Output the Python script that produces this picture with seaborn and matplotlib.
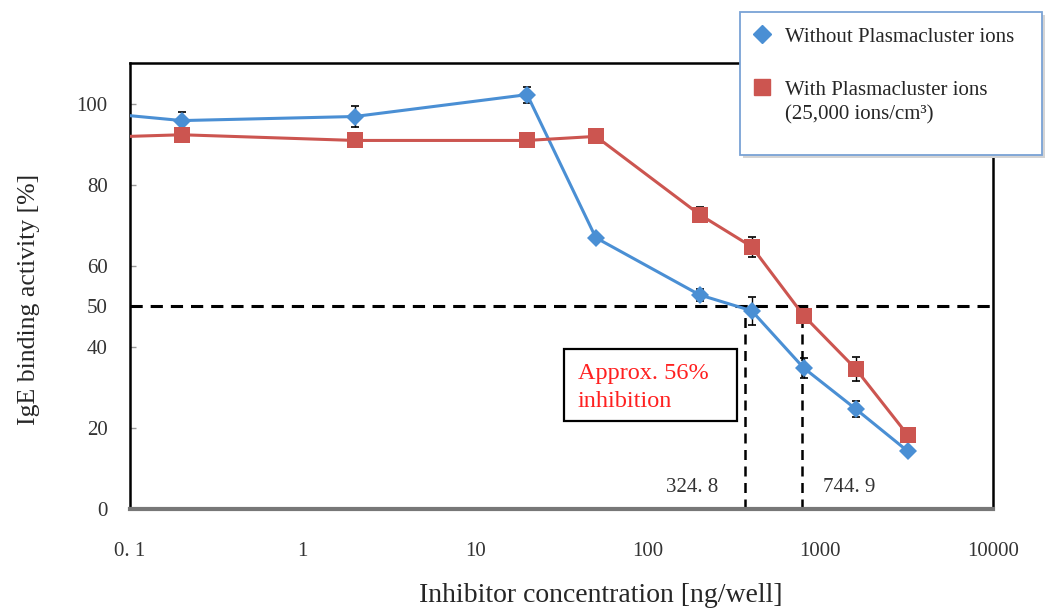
#!/usr/bin/env python3
"""
IgE binding activity vs inhibitor concentration, with / without Plasmacluster ions.
"""

import numpy as np
import pandas as pd
import matplotlib
matplotlib.use("Agg")
import matplotlib.pyplot as plt
import seaborn as sns
from matplotlib.lines import Line2D
from matplotlib.patches import Rectangle
from matplotlib.ticker import FixedLocator, FixedFormatter, NullLocator

# --- data ---
concentration = [0.02, 0.2, 2, 20, 50, 200, 400, 800, 1600, 3200]
without_ions = [99.8, 95.8, 96.8, 102.2, 66.9, 52.8, 48.9, 34.8, 24.7, 14.3]
without_err = [0.0, 2.0, 2.5, 2.0, 0.8, 1.5, 3.5, 2.5, 2.0, 1.0]
with_ions = [91.0, 92.3, 90.9, 90.9, 91.9, 72.6, 64.7, 47.7, 34.6, 18.3]
with_err = [0.0, 1.0, 0.8, 1.5, 1.0, 1.8, 2.5, 1.0, 3.0, 1.0]

series_names = ["Without Plasmacluster ions", "With Plasmacluster ions"]
series_extra = "(25,000 ions/cm³)"
series_colors = ["#4a8fd4", "#cc5550"]
series_markers = ["D", "s"]

x_ticks = [0.1, 1, 10, 100, 1000, 10000]
x_tick_labels = ["0. 1", "1", "10", "100", "1000", "10000"]
y_ticks = [0, 20, 40, 50, 60, 80, 100]

half_level = 50
crossing_x = [365, 780]          # where the curves cross 50 %
crossing_labels = ["324. 8", "744. 9"]
note_text = "Approx. 56%\ninhibition"

df = pd.DataFrame({
    "conc": concentration * 2,
    "activity": without_ions + with_ions,
    "err": without_err + with_err,
    "series": [series_names[0]] * len(concentration) + [series_names[1]] * len(concentration),
})

sns.set_theme(style="white")
plt.rcParams["font.family"] = ["Liberation Serif", "DejaVu Serif"]

fig = plt.figure(figsize=(10.46, 6.11), dpi=100)
ax = fig.add_axes([0.1243, 0.1669, 0.825, 0.730])
ax.set_xscale("log")

palette = dict(zip(series_names, series_colors))
markers = dict(zip(series_names, series_markers))

sns.lineplot(data=df, x="conc", y="activity", hue="series", style="series",
             palette=palette, markers=markers, dashes=False, legend=False,
             linewidth=2.2, markersize=9, markeredgewidth=0, ax=ax, zorder=3)

# bigger squares for the red series
for line, name in zip(ax.lines, series_names):
    if markers[name] == "s":
        line.set_markersize(11)

for name in series_names:
    sub = df[df["series"] == name]
    ax.errorbar(sub["conc"], sub["activity"], yerr=sub["err"], fmt="none",
                ecolor="black", elinewidth=1.0, capsize=3, capthick=1.2, zorder=2.5)

# 50 % reference lines
ax.axhline(half_level, color="black", lw=2.2, ls=(0, (4, 2.6)), zorder=2)
ax.vlines(crossing_x, 0, half_level, color="black", lw=1.8, ls=(0, (4, 2.6)), zorder=2)
ax.text(crossing_x[0] * 0.70, 5.4, crossing_labels[0], ha="right", va="center",
        fontsize=15, color="#333333")
ax.text(crossing_x[1] * 1.32, 5.4, crossing_labels[1], ha="left", va="center",
        fontsize=15, color="#333333")

# annotation box
ax.add_patch(Rectangle((0.503, 0.197), 0.200, 0.162, transform=ax.transAxes,
                       facecolor="white", edgecolor="black", linewidth=1.6, zorder=5))
ax.text(0.519, 0.273, note_text, transform=ax.transAxes, ha="left", va="center",
        fontsize=17.5, color="#ff2020", linespacing=1.42, zorder=6)

ax.set_xlim(0.1, 10000)
ax.set_ylim(0, 110)
ax.xaxis.set_major_locator(FixedLocator(x_ticks))
ax.xaxis.set_major_formatter(FixedFormatter(x_tick_labels))
ax.xaxis.set_minor_locator(NullLocator())
ax.yaxis.set_major_locator(FixedLocator(y_ticks))

ax.tick_params(axis="x", direction="in", length=6, width=1, color="#999999",
               pad=24, labelsize=15, labelcolor="#333333")
ax.tick_params(axis="y", direction="in", length=4, width=1, color="#999999",
               pad=16, labelsize=15, labelcolor="#333333", left=True)

for side in ["left", "top", "right"]:
    ax.spines[side].set_color("black")
    ax.spines[side].set_linewidth(1.8)
ax.spines["bottom"].set_color("#777777")
ax.spines["bottom"].set_linewidth(3)

ax.set_xlabel("Inhibitor concentration [ng/well]", fontsize=20)
ax.set_ylabel("IgE binding activity [%]", fontsize=18.5)
ax.xaxis.set_label_coords(0.546, -0.166)
ax.yaxis.set_label_coords(-0.104, 0.469)

# legend box drawn by hand so it matches the reference size
box_x0, box_y0, box_w, box_h = 0.7075, 0.7463, 0.2887, 0.2337
fig.patches.append(Rectangle((box_x0 + 0.003, box_y0 - 0.005), box_w, box_h,
                             transform=fig.transFigure, facecolor="#d4d4d4",
                             edgecolor="none", zorder=8))
fig.patches.append(Rectangle((box_x0, box_y0), box_w, box_h,
                             transform=fig.transFigure, facecolor="white",
                             edgecolor="#7aa3d6", linewidth=1.3, zorder=9))

handles = [Line2D([], [], ls="none", marker=m, color=c, markersize=ms)
           for m, c, ms in zip(series_markers, series_colors, [9, 11])]
leg = fig.legend(handles, series_names, loc="upper left",
                 bbox_to_anchor=(0.7165, 0.9555), fontsize=15,
                 frameon=False, borderpad=0, borderaxespad=0,
                 labelspacing=1.6, handletextpad=0.5, handlelength=1.2)
leg.set_zorder(10)
fig.text(785 / 1046, 1 - 115 / 611, series_extra, ha="left", va="center",
         fontsize=15, zorder=10)

fig.savefig("out.png", dpi=100)
